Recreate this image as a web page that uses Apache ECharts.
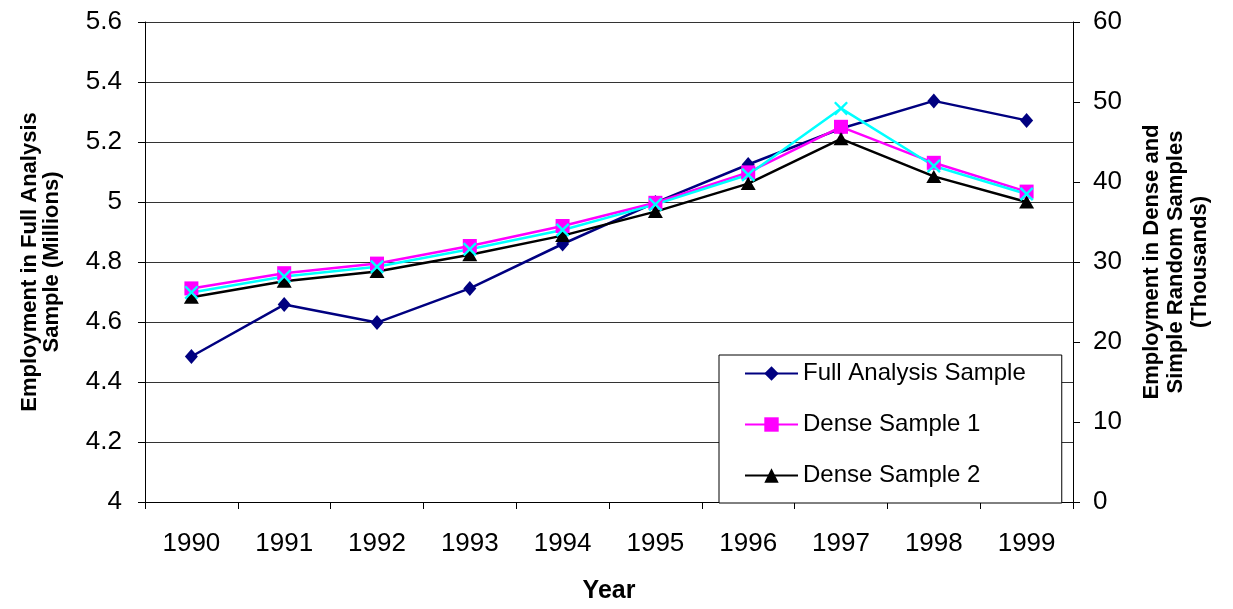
<!DOCTYPE html>
<html>
<head>
<meta charset="utf-8">
<script src="https://cdn.jsdelivr.net/npm/echarts@6/dist/echarts.min.js"></script>
<style>
html,body{margin:0;padding:0;background:#fff;}
#chart{width:1233px;height:609px;}
</style>
</head>
<body>
<div id="chart"></div>
<script>
const years = ['1990','1991','1992','1993','1994','1995','1996','1997','1998','1999'];
const fullAnalysis = [4.485, 4.658, 4.598, 4.712, 4.860, 4.998, 5.125, 5.245, 5.337, 5.272];
const dense1 = [26.7, 28.6, 29.8, 32.0, 34.5, 37.4, 41.2, 46.9, 42.4, 38.8];
const dense2 = [25.6, 27.6, 28.8, 30.9, 33.3, 36.3, 39.8, 45.4, 40.7, 37.5];
const simpleRandom = [26.2, 28.2, 29.4, 31.6, 34.0, 37.2, 40.9, 49.2, 42.0, 38.5];
const leftTicks = {min: 4, max: 5.6, interval: 0.2};
const rightTicks = {min: 0, max: 60, interval: 10};

const FONT = "'Liberation Sans', Arial, sans-serif";
const xPath = 'path://M0,1.2 L1.2,0 L5,3.8 L8.8,0 L10,1.2 L6.2,5 L10,8.8 L8.8,10 L5,6.2 L1.2,10 L0,8.8 L3.8,5 Z';

const chart = echarts.init(document.getElementById('chart'), null, {renderer: 'canvas'});
chart.setOption({
  animation: false,
  backgroundColor: '#fff',
  textStyle: {fontFamily: FONT},
  grid: {left: 145, right: 160, top: 22, bottom: 106, containLabel: false},
  legend: {
    orient: 'vertical',
    left: 719, top: 355,
    data: ['Full Analysis Sample', 'Dense Sample 1', 'Dense Sample 2'],
    backgroundColor: '#fff',
    borderColor: '#000', borderWidth: 1,
    padding: [5, 36, 14, 25],
    itemWidth: 53, itemHeight: 18,
    itemGap: 24,
    textStyle: {fontFamily: FONT, fontSize: 24, color: '#000', lineHeight: 27}
  },
  xAxis: {
    type: 'category',
    data: years,
    boundaryGap: true,
    name: 'Year',
    nameLocation: 'middle',
    nameGap: 77,
    nameTextStyle: {fontFamily: FONT, fontSize: 25, fontWeight: 'bold', color: '#000'},
    axisLine: {lineStyle: {color: '#000', width: 1}},
    axisTick: {show: true, length: 7, alignWithLabel: false, lineStyle: {color: '#000'}},
    axisLabel: {fontFamily: FONT, fontSize: 26, color: '#000', margin: 29},
    splitLine: {show: false}
  },
  yAxis: [
    {
      type: 'value',
      position: 'left',
      min: leftTicks.min, max: leftTicks.max, interval: leftTicks.interval,
      name: 'Employment in Full Analysis\nSample (Millions)',
      nameLocation: 'middle',
      nameRotate: 90,
      nameGap: 82,
      nameTextStyle: {fontFamily: FONT, fontSize: 22, fontWeight: 'bold', color: '#000', lineHeight: 22},
      axisLine: {show: true, lineStyle: {color: '#000', width: 1}},
      axisTick: {show: true, length: 7, lineStyle: {color: '#000'}},
      axisLabel: {fontFamily: FONT, fontSize: 26, color: '#000', margin: 23,
        formatter: v => String(Math.round(v * 10) / 10)},
      splitLine: {show: true, lineStyle: {color: '#333', width: 1}}
    },
    {
      type: 'value',
      position: 'right',
      min: rightTicks.min, max: rightTicks.max, interval: rightTicks.interval,
      name: 'Employment in Dense and\nSimple Random Samples\n(Thousands)',
      nameLocation: 'middle',
      nameRotate: 90,
      nameGap: 67,
      nameTextStyle: {fontFamily: FONT, fontSize: 22, fontWeight: 'bold', color: '#000', lineHeight: 24},
      axisLine: {show: true, lineStyle: {color: '#000', width: 1}},
      axisTick: {show: true, length: 7, lineStyle: {color: '#000'}},
      axisLabel: {fontFamily: FONT, fontSize: 26, color: '#000', margin: 20},
      splitLine: {show: false}
    }
  ],
  series: [
    {
      name: 'Full Analysis Sample', type: 'line', yAxisIndex: 0,
      data: fullAnalysis,
      symbol: 'diamond', symbolSize: [13, 15],
      lineStyle: {color: '#000080', width: 2.5},
      itemStyle: {color: '#000080'}
    },
    {
      name: 'Dense Sample 1', type: 'line', yAxisIndex: 1,
      data: dense1,
      symbol: 'rect', symbolSize: 14,
      lineStyle: {color: '#FF00FF', width: 2.5},
      itemStyle: {color: '#FF00FF'}
    },
    {
      name: 'Dense Sample 2', type: 'line', yAxisIndex: 1,
      data: dense2,
      symbol: 'triangle', symbolSize: [15, 13],
      lineStyle: {color: '#000', width: 2.5},
      itemStyle: {color: '#000'}
    },
    {
      name: 'Simple Random Sample', type: 'line', yAxisIndex: 1,
      data: simpleRandom,
      symbol: xPath, symbolSize: 14,
      lineStyle: {color: '#00FFFF', width: 2.5},
      itemStyle: {color: '#00FFFF'}
    }
  ]
});
</script>
</body>
</html>
